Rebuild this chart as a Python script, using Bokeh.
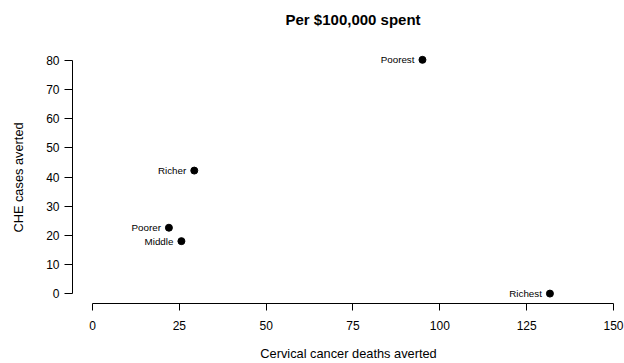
from bokeh.plotting import figure
from bokeh.models import Range1d, ColumnDataSource, FixedTicker, Title
from bokeh.embed import file_html
from bokeh.resources import INLINE
from bokeh.core.properties import value

groups = ["Poorest", "Poorer", "Middle", "Richer", "Richest"]
deaths_averted = [95.0, 22.0, 25.6, 29.3, 131.7]
che_averted = [80.2, 22.6, 18.0, 42.2, 0.0]
x_ticks = [0, 25, 50, 75, 100, 125, 150]
y_ticks = [0, 10, 20, 30, 40, 50, 60, 70, 80]
title_text = "Per $100,000 spent"
x_label = "Cervical cancer deaths averted"
y_label = "CHE cases averted"

FONT = "Liberation Sans"

src = ColumnDataSource(dict(x=deaths_averted, y=che_averted, label=groups))

p = figure(width=624, height=363, output_backend="svg", toolbar_location=None,
           title=None,
           x_range=Range1d(-5.758, 153.17), y_range=Range1d(-3.40, 83.06),
           min_border_left=72, min_border_right=0, min_border_top=51,
           min_border_bottom=58, outline_line_color=None,
           background_fill_color="white", border_fill_color="white")

# blank spacer between frame and title, then the title itself
p.add_layout(Title(text=" ", text_font=FONT, text_font_size="12px",
                   standoff=8), "above")
p.add_layout(Title(text=title_text, align="left", offset=213,
                   standoff=0, text_font=FONT, text_font_size="15px",
                   text_font_style="bold", text_color="black"), "above")

p.xgrid.visible = False
p.ygrid.visible = False

for ax in (p.xaxis[0], p.yaxis[0]):
    ax.axis_line_color = "black"
    ax.axis_line_width = 1
    ax.major_tick_line_color = "black"
    ax.minor_tick_line_color = None
    ax.major_tick_in = 0
    ax.major_label_text_font = FONT
    ax.major_label_text_font_size = "12px"
    ax.major_label_text_color = "black"
    ax.axis_label_text_font = FONT
    ax.axis_label_text_font_size = "12.8px"
    ax.axis_label_text_font_style = "normal"
    ax.axis_label_text_color = "black"

xa = p.xaxis[0]
xa.ticker = FixedTicker(ticks=x_ticks)
xa.bounds = (0, 150)
xa.major_tick_out = 7
xa.major_label_standoff = 10
xa.axis_label = x_label
xa.axis_label_standoff = 13

ya = p.yaxis[0]
ya.ticker = FixedTicker(ticks=y_ticks)
ya.bounds = (0, 80)
ya.major_tick_out = 8
ya.major_label_standoff = 5
ya.major_label_orientation = "horizontal"
ya.axis_label = y_label
ya.axis_label_standoff = 17

p.scatter("x", "y", source=src, size=7, color="black", marker="circle")
p.text("x", "y", text="label", source=src, x_offset=-8,
       text_align="right", text_baseline="middle",
       text_font=value(FONT), text_font_size="9.8px", text_color="black")

open("out.html", "w").write(file_html(p, INLINE))
